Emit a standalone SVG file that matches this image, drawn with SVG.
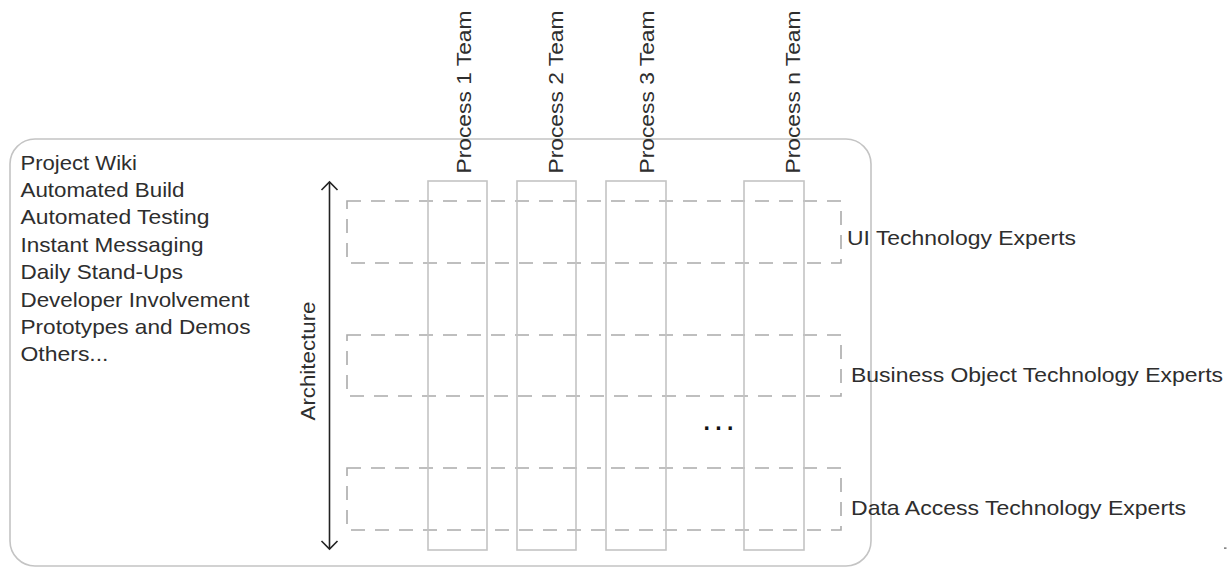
<svg xmlns="http://www.w3.org/2000/svg" width="1227" height="567" viewBox="0 0 1227 567">
  <style>
    text { font-family: "Liberation Sans", Arial, sans-serif; font-size: 21px; fill: #2e2e2e; }
    .frame { fill: none; stroke: #c4c4c4; stroke-width: 1.6; }
    .col { fill: none; stroke: #c4c4c4; stroke-width: 1.6; }
    .row { fill: none; stroke: #ababab; stroke-width: 1.6; stroke-dasharray: 14 10; }
    .arrow { fill: none; stroke: #222222; stroke-width: 1.6; }
  </style>
  <defs>
    <marker id="open" viewBox="0 0 20 20" refX="10" refY="10" markerWidth="20" markerHeight="20" markerUnits="userSpaceOnUse" orient="auto-start-reverse">
      <path d="M2,2 L10,10 L2,18" fill="none" stroke="#222222" stroke-width="1.6"/>
    </marker>
  </defs>

  <g id="frame">
    <rect class="frame" x="10" y="139" width="861" height="427" rx="25" ry="25"/>
  </g>

  <g id="practices">
    <text x="20.5" y="169.5" textLength="116.5" lengthAdjust="spacingAndGlyphs">Project Wiki</text>
    <text x="20.5" y="197" textLength="164" lengthAdjust="spacingAndGlyphs">Automated Build</text>
    <text x="20.5" y="224.3" textLength="189" lengthAdjust="spacingAndGlyphs">Automated Testing</text>
    <text x="20.5" y="251.8" textLength="183" lengthAdjust="spacingAndGlyphs">Instant Messaging</text>
    <text x="20.5" y="279.3" textLength="162.5" lengthAdjust="spacingAndGlyphs">Daily Stand-Ups</text>
    <text x="20.5" y="306.7" textLength="229" lengthAdjust="spacingAndGlyphs">Developer Involvement</text>
    <text x="20.5" y="334" textLength="230" lengthAdjust="spacingAndGlyphs">Prototypes and Demos</text>
    <text x="20.5" y="361.4" textLength="88" lengthAdjust="spacingAndGlyphs">Others...</text>
  </g>

  <g id="connectors">
    <line class="arrow" x1="329.5" y1="182" x2="329.5" y2="549" marker-start="url(#open)" marker-end="url(#open)"/>
  </g>

  <g id="architecture">
    <text transform="translate(315,361) rotate(-90)" x="0" y="0" text-anchor="middle" textLength="119" lengthAdjust="spacingAndGlyphs">Architecture</text>
  </g>

  <g id="row-ui">
    <rect class="row" x="347" y="201" width="494" height="62"/>
    <text x="847" y="245" textLength="229" lengthAdjust="spacingAndGlyphs">UI Technology Experts</text>
  </g>
  <g id="row-bo">
    <rect class="row" x="347" y="335" width="494" height="61"/>
    <text x="851" y="382" textLength="372" lengthAdjust="spacingAndGlyphs">Business Object Technology Experts</text>
  </g>
  <g id="row-da">
    <rect class="row" x="347" y="468" width="494" height="62"/>
    <text x="851" y="515" textLength="335" lengthAdjust="spacingAndGlyphs">Data Access Technology Experts</text>
  </g>

  <g id="team-1">
    <rect class="col" x="428" y="181" width="59" height="369"/>
    <text transform="translate(470.5,173.5) rotate(-90)" textLength="163" lengthAdjust="spacingAndGlyphs">Process 1 Team</text>
  </g>
  <g id="team-2">
    <rect class="col" x="517" y="181" width="59" height="369"/>
    <text transform="translate(563,173.5) rotate(-90)" textLength="163" lengthAdjust="spacingAndGlyphs">Process 2 Team</text>
  </g>
  <g id="team-3">
    <rect class="col" x="606" y="181" width="60" height="369"/>
    <text transform="translate(654,173.5) rotate(-90)" textLength="163" lengthAdjust="spacingAndGlyphs">Process 3 Team</text>
  </g>
  <g id="team-n">
    <rect class="col" x="744" y="181" width="60" height="369"/>
    <text transform="translate(800,173.5) rotate(-90)" textLength="163" lengthAdjust="spacingAndGlyphs">Process n Team</text>
  </g>

  <g id="ellipsis">
    <text x="703.5" y="430" font-weight="bold" letter-spacing="5.3" style="font-size:23px;fill:#111111">...</text>
  </g>

  <g id="mark">
    <rect x="1224" y="547.5" width="2.5" height="1.2" fill="#555555"/>
  </g>
</svg>
